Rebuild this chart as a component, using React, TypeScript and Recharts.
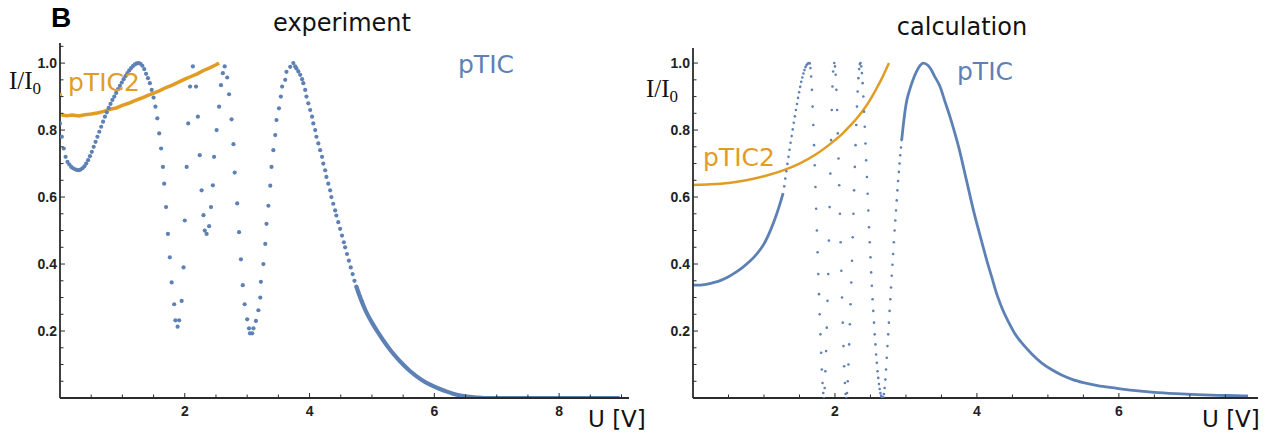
import { ComposedChart, Line, Scatter, XAxis, YAxis } from "recharts";

const BLUE = "#5E81B5";
const ORANGE = "#E19C24";
const AXIS = "#2b2b2b";

// experiment: pTIC measured points [U, I/I0]
const expPticDots: [number, number][] = [
  [0.0, 0.82], [0.03, 0.78], [0.06, 0.745], [0.09, 0.72], [0.12, 0.705], [0.15, 0.697],
  [0.18, 0.69], [0.21, 0.686], [0.24, 0.683], [0.27, 0.681], [0.3, 0.68], [0.33, 0.682],
  [0.36, 0.686], [0.39, 0.692], [0.42, 0.7], [0.45, 0.71], [0.48, 0.722], [0.51, 0.735],
  [0.54, 0.75], [0.57, 0.765], [0.6, 0.78], [0.63, 0.795], [0.66, 0.81], [0.69, 0.825],
  [0.72, 0.84], [0.75, 0.853], [0.78, 0.866], [0.81, 0.878], [0.84, 0.89], [0.87, 0.9],
  [0.9, 0.911], [0.93, 0.922], [0.96, 0.932], [0.99, 0.942], [1.02, 0.952], [1.05, 0.961],
  [1.08, 0.97], [1.11, 0.978], [1.14, 0.985], [1.17, 0.991], [1.2, 0.996], [1.23, 0.999],
  [1.26, 1.0], [1.29, 0.998], [1.32, 0.992], [1.35, 0.982], [1.38, 0.968], [1.41, 0.955],
  [1.44, 0.94], [1.47, 0.92], [1.5, 0.897], [1.53, 0.87], [1.56, 0.835], [1.59, 0.79],
  [1.62, 0.745], [1.65, 0.69], [1.67, 0.64], [1.7, 0.57], [1.73, 0.49], [1.76, 0.42],
  [1.79, 0.345], [1.83, 0.28], [1.85, 0.232], [1.885, 0.213], [1.91, 0.232], [1.95, 0.29],
  [1.98, 0.39], [2.0, 0.53], [2.03, 0.69], [2.055, 0.82], [2.085, 0.93], [2.13, 0.99],
  [2.18, 0.93], [2.21, 0.84], [2.24, 0.725], [2.27, 0.62], [2.3, 0.546], [2.32, 0.5],
  [2.35, 0.49], [2.39, 0.513], [2.42, 0.57], [2.45, 0.635], [2.47, 0.72], [2.51, 0.8],
  [2.55, 0.87], [2.58, 0.934], [2.61, 0.97], [2.64, 0.99], [2.68, 0.957], [2.71, 0.907],
  [2.75, 0.832], [2.78, 0.758], [2.8, 0.673], [2.84, 0.581], [2.87, 0.495], [2.9, 0.414],
  [2.93, 0.337], [2.96, 0.28], [3.0, 0.235], [3.03, 0.208], [3.045, 0.193], [3.08, 0.193],
  [3.1, 0.208], [3.14, 0.23], [3.18, 0.262], [3.21, 0.3], [3.22, 0.347], [3.26, 0.4],
  [3.29, 0.46], [3.31, 0.52], [3.34, 0.574], [3.37, 0.634], [3.39, 0.69], [3.42, 0.74],
  [3.45, 0.785], [3.47, 0.83], [3.51, 0.865], [3.54, 0.9], [3.56, 0.93], [3.61, 0.95],
  [3.63, 0.974], [3.69, 0.989], [3.74, 1.0], [3.77, 0.99], [3.79, 0.984], [3.82, 0.975],
  [3.85, 0.965], [3.88, 0.952], [3.9, 0.94], [3.93, 0.92], [3.95, 0.9], [3.98, 0.88],
  [4.01, 0.86], [4.04, 0.84], [4.06, 0.82], [4.09, 0.8], [4.11, 0.78], [4.14, 0.76],
  [4.17, 0.74], [4.2, 0.72], [4.22, 0.7], [4.25, 0.68], [4.27, 0.66], [4.3, 0.64],
  [4.33, 0.62], [4.35, 0.6], [4.38, 0.58], [4.41, 0.56], [4.43, 0.545], [4.46, 0.525],
  [4.49, 0.505], [4.52, 0.485], [4.55, 0.465], [4.57, 0.45], [4.6, 0.43], [4.63, 0.41],
  [4.66, 0.39], [4.69, 0.37], [4.72, 0.35], [4.75, 0.333], [4.78, 0.317], [4.81, 0.302],
  [4.84, 0.288],
];

// experiment: pTIC dense tail (points overlap into a band)
const expPticTail: [number, number][] = [
  [4.75, 0.333], [4.8, 0.306], [4.9, 0.26], [5.0, 0.225], [5.1, 0.195],
  [5.2, 0.167], [5.3, 0.142], [5.4, 0.12], [5.5, 0.1], [5.6, 0.082], [5.7, 0.067],
  [5.8, 0.054], [5.9, 0.043], [6.0, 0.034], [6.1, 0.026], [6.2, 0.019], [6.3, 0.013],
  [6.4, 0.008], [6.5, 0.005], [6.6, 0.003], [6.7, 0.001], [6.8, 0.0], [7.5, 0.0],
  [8.2, 0.0], [8.97, 0.0],
];

// experiment: pTIC2
const expPtic2Start: [number, number][] = [[0.0, 0.905]];
const expPtic2: [number, number][] = [
  [0.02, 0.846], [0.1, 0.843], [0.2, 0.845], [0.3, 0.842], [0.4, 0.846], [0.5, 0.848],
  [0.6, 0.851], [0.7, 0.856], [0.8, 0.862], [0.9, 0.866], [1.0, 0.874], [1.1, 0.88],
  [1.2, 0.888], [1.3, 0.895], [1.4, 0.903], [1.5, 0.91], [1.6, 0.918], [1.7, 0.927],
  [1.8, 0.934], [1.9, 0.943], [2.0, 0.952], [2.1, 0.96], [2.2, 0.968], [2.3, 0.978],
  [2.4, 0.986], [2.5, 0.995], [2.55, 1.0],
];

// calculation: pTIC, smooth start
const calcPticHead: [number, number][] = [
  [0.0, 0.337], [0.1, 0.337], [0.2, 0.34], [0.3, 0.345], [0.4, 0.352], [0.5, 0.362],
  [0.6, 0.375], [0.7, 0.39], [0.8, 0.408], [0.9, 0.43], [1.0, 0.46], [1.1, 0.505],
  [1.18, 0.55], [1.24, 0.59], [1.27, 0.612],
];

// calculation: pTIC, oscillating part (sparse dots)
const calcPticDots: [number, number][] = [
  [1.285, 0.632], [1.3, 0.655], [1.315, 0.677], [1.33, 0.699], [1.345, 0.72], [1.36, 0.741],
  [1.375, 0.762], [1.39, 0.782], [1.405, 0.802], [1.42, 0.822], [1.435, 0.841], [1.45, 0.86],
  [1.465, 0.878], [1.48, 0.896], [1.495, 0.913], [1.51, 0.929], [1.525, 0.944], [1.54, 0.957],
  [1.555, 0.969], [1.57, 0.979], [1.585, 0.988], [1.6, 0.994], [1.615, 0.998], [1.63, 1.0],
  [1.645, 0.999], [1.655, 0.985], [1.665, 0.96], [1.675, 0.92], [1.685, 0.87], [1.695, 0.815],
  [1.705, 0.755], [1.715, 0.695], [1.725, 0.63], [1.735, 0.565], [1.745, 0.5], [1.755, 0.435],
  [1.765, 0.37], [1.775, 0.31], [1.785, 0.25], [1.795, 0.19], [1.805, 0.135], [1.815, 0.085],
  [1.825, 0.045], [1.835, 0.015], [1.845, 0.0], [1.855, 0.03], [1.865, 0.08], [1.875, 0.14],
  [1.885, 0.21], [1.895, 0.29], [1.905, 0.37], [1.915, 0.47], [1.925, 0.57], [1.935, 0.67],
  [1.945, 0.77], [1.955, 0.86], [1.965, 0.93], [1.975, 0.975], [1.99, 1.0], [2.0, 0.99],
  [2.01, 0.965], [2.02, 0.92], [2.03, 0.86], [2.04, 0.79], [2.05, 0.715], [2.06, 0.635],
  [2.07, 0.55], [2.08, 0.465], [2.09, 0.38], [2.1, 0.3], [2.11, 0.225], [2.12, 0.155],
  [2.13, 0.095], [2.14, 0.045], [2.15, 0.012], [2.16, 0.0], [2.17, 0.015], [2.18, 0.05],
  [2.19, 0.1], [2.2, 0.16], [2.21, 0.22], [2.22, 0.28], [2.23, 0.345], [2.24, 0.41],
  [2.25, 0.48], [2.26, 0.55], [2.27, 0.62], [2.28, 0.69], [2.29, 0.755], [2.3, 0.815],
  [2.31, 0.87], [2.32, 0.915], [2.33, 0.955], [2.34, 0.982], [2.35, 0.997], [2.36, 1.0],
  [2.37, 0.99], [2.38, 0.97], [2.39, 0.94], [2.4, 0.9], [2.41, 0.855], [2.42, 0.81],
  [2.43, 0.76], [2.44, 0.71], [2.45, 0.66], [2.46, 0.61], [2.47, 0.56], [2.48, 0.51],
  [2.49, 0.465], [2.5, 0.42], [2.51, 0.375], [2.52, 0.335], [2.53, 0.295], [2.54, 0.26],
  [2.55, 0.225], [2.56, 0.19], [2.57, 0.16], [2.58, 0.13], [2.59, 0.105], [2.6, 0.08],
  [2.61, 0.06], [2.62, 0.042], [2.63, 0.027], [2.64, 0.015], [2.65, 0.007], [2.66, 0.002],
  [2.67, 0.0], [2.68, 0.003], [2.69, 0.012], [2.7, 0.03], [2.71, 0.055], [2.72, 0.085],
  [2.73, 0.12], [2.74, 0.155], [2.75, 0.19], [2.76, 0.225], [2.77, 0.26], [2.78, 0.295],
  [2.79, 0.33], [2.8, 0.365], [2.81, 0.398], [2.82, 0.43], [2.83, 0.465], [2.84, 0.5],
  [2.85, 0.53], [2.86, 0.56], [2.87, 0.59], [2.88, 0.62], [2.89, 0.648], [2.9, 0.675],
  [2.91, 0.7], [2.92, 0.725], [2.93, 0.748], [2.94, 0.77],
];

// calculation: pTIC, main peak and tail
const calcPticPeak: [number, number][] = [
  [2.94, 0.77], [2.96, 0.81], [2.98, 0.845], [3.0, 0.875], [3.06, 0.925], [3.1, 0.95],
  [3.15, 0.975], [3.2, 0.993], [3.24, 1.0],
  [3.3, 0.995], [3.35, 0.982], [3.4, 0.962], [3.48, 0.93], [3.55, 0.885], [3.62, 0.84],
  [3.69, 0.79], [3.76, 0.735], [3.82, 0.68], [3.88, 0.625], [3.94, 0.57], [4.0, 0.52],
  [4.07, 0.465], [4.14, 0.41], [4.21, 0.36], [4.28, 0.31], [4.36, 0.265], [4.45, 0.225],
  [4.54, 0.19], [4.65, 0.16], [4.78, 0.13], [4.91, 0.105], [5.05, 0.085], [5.2, 0.068],
  [5.35, 0.055], [5.5, 0.046], [5.7, 0.037], [5.94, 0.03], [6.2, 0.023], [6.5, 0.017],
  [6.8, 0.013], [7.1, 0.01], [7.4, 0.008], [7.65, 0.007], [7.82, 0.006],
];

// calculation: pTIC2
const calcPtic2: [number, number][] = [
  [0.0, 0.636], [0.25, 0.638], [0.5, 0.642], [0.75, 0.65], [1.0, 0.662], [1.25, 0.678],
  [1.5, 0.7], [1.75, 0.73], [2.0, 0.77], [2.1, 0.788], [2.2, 0.81], [2.3, 0.833],
  [2.4, 0.86], [2.48, 0.885], [2.55, 0.91], [2.6, 0.93], [2.65, 0.95], [2.7, 0.972],
  [2.76, 1.0],
];

const xTicksLeft = [0.5, 1, 1.5, 2, 2.5, 3, 3.5, 4, 4.5, 5, 5.5, 6, 6.5, 7, 7.5, 8, 8.5, 9];
const xTicksRight = [0.5, 1, 1.5, 2, 2.5, 3, 3.5, 4, 4.5, 5, 5.5, 6, 6.5, 7, 7.5];
const yTicks = [0.05, 0.1, 0.15, 0.2, 0.25, 0.3, 0.35, 0.4, 0.45, 0.5, 0.55, 0.6, 0.65, 0.7, 0.75, 0.8, 0.85, 0.9, 0.95, 1.0, 1.05];

const pts = (rows: [number, number][]) => rows.map(([x, y]) => ({ x, y }));

const tickFont = { fontFamily: "Liberation Sans, Arial, sans-serif", fontSize: 14, fontWeight: 700, fill: "#222" };

function XTick(props: any) {
  const { x, y, payload } = props;
  const v = payload.value;
  const major = v % 2 === 0;
  return (
    <g>
      <line x1={x} x2={x} y1={y} y2={y - (major ? 5 : 3.5)} stroke={AXIS} strokeWidth={1} />
      {major && (
        <text x={x} y={y + 18} textAnchor="middle" {...tickFont}>
          {v}
        </text>
      )}
    </g>
  );
}

function YTick(props: any) {
  const { x, y, payload } = props;
  const v = payload.value;
  const major = Math.abs(v * 5 - Math.round(v * 5)) < 1e-6;
  return (
    <g>
      <line x1={x} x2={x + (major ? 5 : 3.5)} y1={y} y2={y} stroke={AXIS} strokeWidth={1} />
      {major && (
        <text x={x - 3} y={y + 5} textAnchor="end" {...tickFont}>
          {v.toFixed(1)}
        </text>
      )}
    </g>
  );
}

const dot = (r: number, color: string) => (p: any) => <circle cx={p.cx} cy={p.cy} r={r} fill={color} />;

const labelFont = "DejaVu Sans, Verdana, sans-serif";

export default function App() {
  return (
    <div style={{ position: "absolute", left: 0, top: 0, width: 1277, height: 434, background: "#fff" }}>
      <div style={{ position: "absolute", left: 0, top: 0 }}>
        <ComposedChart width={640} height={434} margin={{ top: 43, right: 11, bottom: 0, left: 0 }}>
          <XAxis
            type="number"
            dataKey="x"
            domain={[0, 9.12]}
            ticks={xTicksLeft}
            interval={0}
            height={36}
            tickSize={0}
            tickMargin={0}
            tickLine={false}
            tick={<XTick />}
            axisLine={{ stroke: AXIS, strokeWidth: 1.8 }}
            allowDataOverflow
          />
          <YAxis
            type="number"
            dataKey="y"
            domain={[0, 1.06]}
            ticks={yTicks}
            interval={0}
            width={60}
            tickSize={0}
            tickMargin={0}
            tickLine={false}
            tick={<YTick />}
            axisLine={{ stroke: AXIS, strokeWidth: 1.8 }}
            allowDataOverflow
          />
          <Line data={pts(expPtic2)} dataKey="y" type="linear" dot={false} stroke={ORANGE} strokeWidth={3.5} isAnimationActive={false} />
          <Scatter data={pts(expPtic2Start)} dataKey="y" shape={dot(2.2, ORANGE)} isAnimationActive={false} />
          <Line data={pts(expPticTail)} dataKey="y" type="monotone" dot={false} stroke={BLUE} strokeWidth={4.2} isAnimationActive={false} />
          <Scatter data={pts(expPticDots)} dataKey="y" shape={dot(2.1, BLUE)} isAnimationActive={false} />
        </ComposedChart>
      </div>
      <div style={{ position: "absolute", left: 640, top: 0 }}>
        <ComposedChart width={637} height={434} margin={{ top: 48, right: 19, bottom: 0, left: 0 }}>
          <XAxis
            type="number"
            dataKey="x"
            domain={[0, 7.96]}
            ticks={xTicksRight}
            interval={0}
            height={36}
            tickSize={0}
            tickMargin={0}
            tickLine={false}
            tick={<XTick />}
            axisLine={{ stroke: AXIS, strokeWidth: 1.8 }}
            allowDataOverflow
          />
          <YAxis
            type="number"
            dataKey="y"
            domain={[0, 1.045]}
            ticks={yTicks.filter((t) => t <= 1.0)}
            interval={0}
            width={53}
            tickSize={0}
            tickMargin={0}
            tickLine={false}
            tick={<YTick />}
            axisLine={{ stroke: AXIS, strokeWidth: 1.8 }}
            allowDataOverflow
          />
          <Line data={pts(calcPticHead)} dataKey="y" type="monotone" dot={false} stroke={BLUE} strokeWidth={2.8} isAnimationActive={false} />
          <Line data={pts(calcPticPeak)} dataKey="y" type="monotone" dot={false} stroke={BLUE} strokeWidth={2.8} isAnimationActive={false} />
          <Scatter data={pts(calcPticDots)} dataKey="y" shape={dot(1.3, BLUE)} isAnimationActive={false} />
          <Line data={pts(calcPtic2)} dataKey="y" type="monotone" dot={false} stroke={ORANGE} strokeWidth={2.5} isAnimationActive={false} />
        </ComposedChart>
      </div>
      <svg width={1277} height={434} style={{ position: "absolute", left: 0, top: 0, pointerEvents: "none" }}>
        <text x={51} y={27} fontFamily="Liberation Sans, Arial, sans-serif" fontWeight={700} fontSize={28} fill="#000">B</text>
        <text x={342} y={31} textAnchor="middle" fontFamily={labelFont} fontSize={24} fill="#111">experiment</text>
        <text x={962} y={35} textAnchor="middle" fontFamily={labelFont} fontSize={24} fill="#111">calculation</text>
        <text x={9} y={89} fontFamily="Liberation Serif, serif" fontSize={25} fill="#111">
          I/I<tspan fontSize={17} dy={5}>0</tspan>
        </text>
        <text x={646} y={97} fontFamily="Liberation Serif, serif" fontSize={25} fill="#111">
          I/I<tspan fontSize={17} dy={5}>0</tspan>
        </text>
        <text x={588} y={427} fontFamily={labelFont} fontSize={23} fill="#111">U [V]</text>
        <text x={1202} y={427} fontFamily={labelFont} fontSize={23} fill="#111">U [V]</text>
        <text x={68} y={91} fontFamily={labelFont} fontSize={25} fill={ORANGE}>pTIC2</text>
        <text x={703} y={166} fontFamily={labelFont} fontSize={25} fill={ORANGE}>pTIC2</text>
        <text x={458} y={73} fontFamily={labelFont} fontSize={25} fill={BLUE}>pTIC</text>
        <text x={957} y={80} fontFamily={labelFont} fontSize={25} fill={BLUE}>pTIC</text>
      </svg>
    </div>
  );
}
